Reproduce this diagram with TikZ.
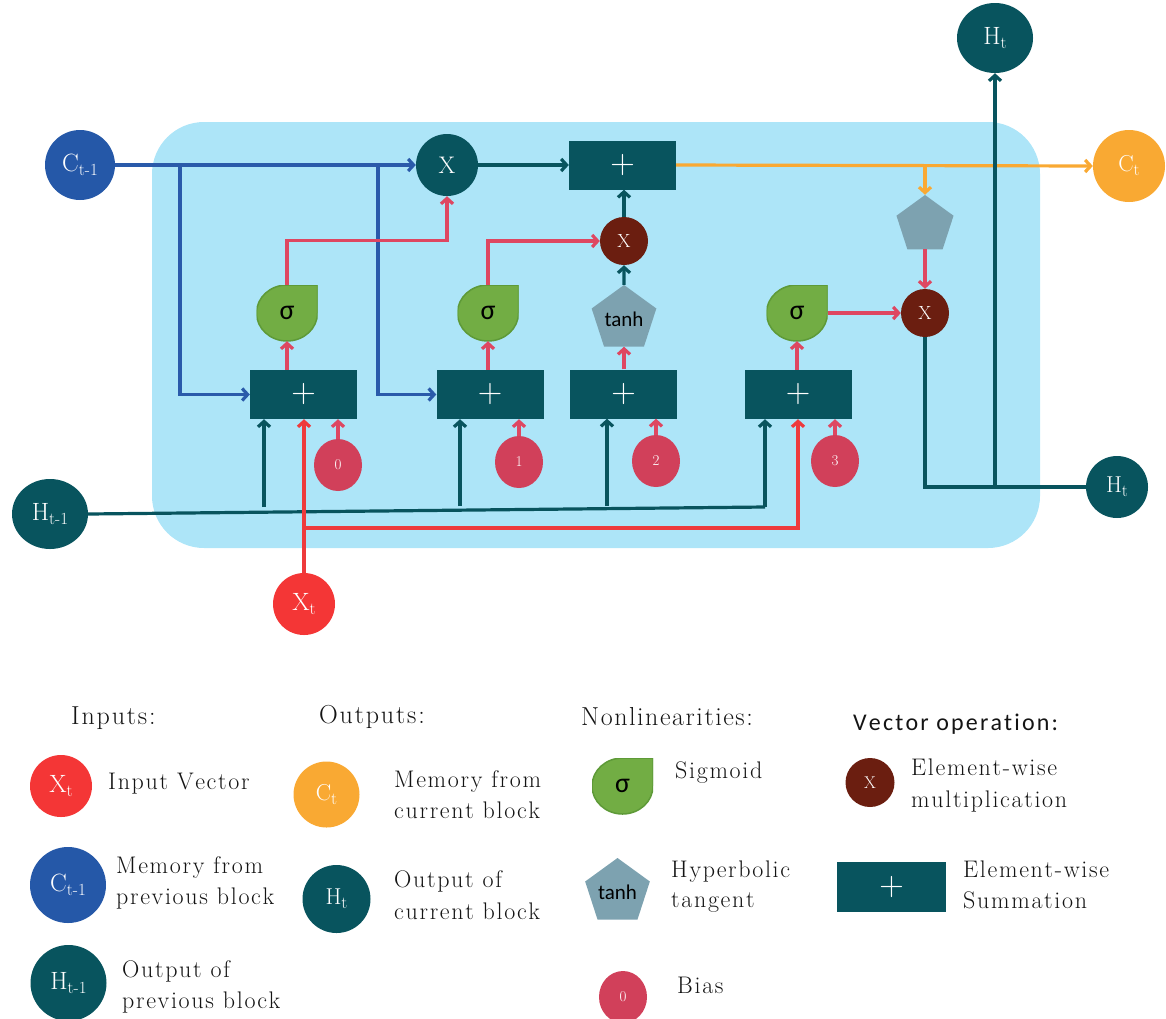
\documentclass[tikz,border=0pt]{standalone}
\usepackage{fontspec}
\newfontfamily\sansf{Carlito}
\usetikzlibrary{arrows.meta,shapes.geometric,calc}
\ExplSyntaxOn
\seq_new:N \l_lstm_words_seq
\NewDocumentCommand\spaced{O{0.07em}m}
 {
  \seq_set_split:Nnn \l_lstm_words_seq {~} {#2}
  \seq_map_indexed_inline:Nn \l_lstm_words_seq
   {
    \int_compare:nNnT {##1} > {1} {\c_space_tl}
    \tl_map_inline:nn {##2} {####1\kern #1}
   }
 }
\ExplSyntaxOff
\definecolor{bgc}{HTML}{ADE5F8}
\definecolor{tealc}{HTML}{08545E}
\definecolor{bluec}{HTML}{2558A8}
\definecolor{bluel}{HTML}{2A5AAA}
\definecolor{greenc}{HTML}{72AD44}
\definecolor{greend}{HTML}{5E9A38}
\definecolor{pentc}{HTML}{7DA2B0}
\definecolor{maroonc}{HTML}{6B1E10}
\definecolor{biasc}{HTML}{D1405A}
\definecolor{xtc}{HTML}{F43636}
\definecolor{xtl}{HTML}{EE3A3C}
\definecolor{orc}{HTML}{F9A933}
\definecolor{pinkl}{HTML}{DE4761}
\definecolor{txtc}{HTML}{141414}
\newcommand\sbs[1]{\raisebox{-4pt}{\fontsize{17}{17}\selectfont #1}}
\newcommand\fsz[1]{\fontsize{#1}{#1}\selectfont}
\begin{document}
\begin{tikzpicture}[x=1pt,y=-1pt,
  lw/.style={line width=3.2pt},
  arr/.style={-{Straight Barb[length=5.5pt,width=12pt]}},
  bl/.style={lw,draw=bluel},
  tl/.style={lw,draw=tealc},
  rl/.style={lw,draw=pinkl},
  xr/.style={lw,draw=xtl},
  orl/.style={lw,draw=orc},
  cellbg/.style={fill=bgc,rounded corners=52pt,minimum width=888pt,minimum height=426pt},
  circ/.style={circle,inner sep=0pt,text=white,font=\fsz{25}},
  ell/.style={ellipse,inner sep=0pt,text=white,font=\fsz{25}},
  plusb/.style={rectangle,fill=tealc,minimum width=107pt,minimum height=49pt,inner sep=0pt,text=white,font=\fsz{34}},
  mulT/.style={circle,fill=tealc,minimum size=62pt,inner sep=0pt,text=white,font=\fsz{24}},
  mulM/.style={circle,fill=maroonc,minimum size=48pt,inner sep=0pt,text=white,font=\fsz{19}},
  pent/.style={regular polygon,regular polygon sides=5,fill=pentc,minimum size=60pt,inner sep=0pt,font=\sansf\fsz{21}},
  biasE/.style={ellipse,fill=biasc,minimum width=48pt,minimum height=52pt,inner sep=0pt,text=white,font=\fsz{15}},
  sigm/.style={rectangle,minimum width=61pt,minimum height=56pt,inner sep=0pt,font=\sansf\fsz{28},
    path picture={\fill[greenc,draw=greend,line width=1.5pt] (path picture bounding box.north east) -- (path picture bounding box.east)
      arc[start angle=0,end angle=-180,x radius=30.5pt,y radius=28pt]
      arc[start angle=180,end angle=90,x radius=30.5pt,y radius=28pt] -- cycle;}},
  lhead/.style={anchor=base west,inner sep=0pt,text=txtc,font=\fsz{26}},
  lhs/.style={anchor=base west,inner sep=0pt,text=txtc,font=\sansf\fsz{24}},
  ltext/.style={anchor=base west,inner sep=0pt,text=txtc,font=\fsz{24}}
]
\useasboundingbox (0,0) rectangle (1166,1018);
\node[cellbg] (cell) at (596,335) {};

% ---- main nodes ----
\node[circ,fill=bluec,minimum size=70pt] (ct1) at (80,165) {C\sbs{t-1}};
\node[mulT] (xg) at (447,165) {X};
\node[plusb] (sp) at (622.5,165) {+};
\node[circ,fill=orc,minimum size=72pt,font=\fsz{23}] (ct) at (1129,166) {C\sbs{t}};
\node[ell,fill=tealc,minimum width=76pt,minimum height=70pt] (htop) at (995,38) {H\sbs{t}};
\node[circ,fill=tealc,minimum size=62pt,font=\fsz{23}] (hr) at (1117,487) {H\sbs{t}};
\node[ell,fill=tealc,minimum width=76pt,minimum height=70pt] (ht1) at (50,514) {H\sbs{t-1}};
\node[circ,fill=xtc,minimum size=62pt] (xt) at (304,604) {X\sbs{t}};
\node[mulM] (xm1) at (624,241) {X};
\node[mulM] (xm2) at (925,313) {X};
\node[pent] (th) at (624,319) {tanh};
\node[pent] (pe2) at (925,225) {};
\node[sigm] (sg1) at (287,313) {σ};
\node[sigm] (sg2) at (488,313) {σ};
\node[sigm] (sg3) at (797,313) {σ};
\node[plusb] (b1) at (303.5,394.5) {+};
\node[plusb] (b2) at (490,394.5) {+};
\node[plusb] (b3) at (623.5,394) {+};
\node[plusb] (b4) at (798,394.5) {+};
\node[biasE] (bi0) at (338,465) {0};
\node[biasE] (bi1) at (519,462) {1};
\node[biasE] (bi2) at (656,461) {2};
\node[biasE] (bi3) at (835,461) {3};

% ---- coordinates ----
\coordinate (bj1) at (180,165);
\coordinate (bj2) at (378,165);
\coordinate (oj) at (925,165);
\coordinate (hj) at (995,487);
\coordinate (hend) at (765,507);
\coordinate (hu1) at (264,507);
\coordinate (hu2) at (460,506);
\coordinate (hu3) at (607,506);
\coordinate (xj) at (304,528);

% ---- connectors ----
\draw[bl,arr] (ct1) -- (xg);
\draw[bl,arr] (bj1) |- (b1.west);
\draw[bl,arr] (bj2) |- (b2.west);
\draw[tl,arr] (xg) -- (sp);
\draw[orl,arr] (sp.east) -- (ct.west);
\draw[orl,arr] (oj) -- (pe2.north);
\draw[rl,arr] (pe2.south) -- (xm2.north);
\draw[rl,arr] (sg3.east) -- (xm2.west);
\draw[tl] (xm2.south) |- (hr.west);
\draw[tl,arr] (hj) -- (htop.south);
\draw[tl,arr] (th.north) -- (xm1.south);
\draw[tl,arr] (xm1.north) -- (xm1.north |- sp.south);
\draw[rl,arr] (sg1.north) -- ++(0,-44) -| (xg.south);
\draw[rl,arr] (sg2.north) |- (xm1.west);
\draw[rl,arr] (b1.north -| sg1.south) -- (sg1.south);
\draw[rl,arr] (b2.north -| sg2.south) -- (sg2.south);
\draw[rl,arr] (b3.north -| th.south) -- (th.south);
\draw[rl,arr] (b4.north -| sg3.south) -- (sg3.south);
\draw[rl,arr] (bi0.north) -- (bi0.north |- b1.south);
\draw[rl,arr] (bi1.north) -- (bi1.north |- b2.south);
\draw[rl,arr] (bi2.north) -- (bi2.north |- b3.south);
\draw[rl,arr] (bi3.north) -- (bi3.north |- b4.south);
\draw[tl] (ht1.east) -- (hend);
\draw[tl,arr] (hend) -- (hend |- b4.south);
\draw[tl,arr] (hu1) -- (hu1 |- b1.south);
\draw[tl,arr] (hu2) -- (hu2 |- b2.south);
\draw[tl,arr] (hu3) -- (hu3 |- b3.south);
\draw[xr,arr] (xt.north) -- (xt.north |- b1.south);
\draw[xr,arr] (xj) -| (b4.south);

% ---- legend ----
\node[lhead] (hin) at (71,724) {\spaced{Inputs:}};
\node[lhead] (hout) at (319,723) {\spaced{Outputs:}};
\node[lhead] (hnon) at (581,725) {\spaced[0.06em]{Nonlinearities:}};
\node[lhs] (hvec) at (853,730) {\spaced[0.09em]{Vector operation:}};

\node[circ,fill=xtc,minimum size=62pt] (lxt) at (61,786) {X\sbs{t}};
\node[ltext] (txt) at (108,789) {\spaced{Input Vector}};
\node[circ,fill=bluec,minimum size=76pt] (lct1) at (68,885) {C\sbs{t-1}};
\node[ltext] (tct1a) at (116,873) {\spaced{Memory from}};
\node[ltext] (tct1b) at (116,904) {\spaced{previous block}};
\node[circ,fill=tealc,minimum size=76pt] (lht1) at (68.5,983) {H\sbs{t-1}};
\node[ltext] (tht1a) at (122,977) {\spaced{Output of}};
\node[ltext] (tht1b) at (122,1008) {\spaced{previous block}};

\node[circ,fill=orc,minimum size=66pt,font=\fsz{23}] (lct) at (326.5,794.5) {C\sbs{t}};
\node[ltext] (tcta) at (394,787) {\spaced{Memory from}};
\node[ltext] (tctb) at (394,818) {\spaced{current block}};
\node[circ,fill=tealc,minimum size=68pt,font=\fsz{23}] (lht) at (336.5,899) {H\sbs{t}};
\node[ltext] (thta) at (394,887) {\spaced{Output of}};
\node[ltext] (thtb) at (394,919) {\spaced{current block}};

\node[sigm] (lsg) at (622.5,786) {σ};
\node[ltext] (tsg) at (675,778) {\spaced{Sigmoid}};
\node[pent] (lpe) at (617.5,892) {tanh};
\node[ltext] (tpea) at (671,877) {\spaced{Hyperbolic}};
\node[ltext] (tpeb) at (671,907) {\spaced{tangent}};
\node[biasE] (lbi) at (623,997) {0};
\node[ltext] (tbi) at (677,993) {\spaced{Bias}};

\node[mulM,minimum size=49pt,font=\fsz{17}] (lxm) at (870,782.5) {X};
\node[ltext] (txma) at (911,775) {\spaced{Element-wise}};
\node[ltext] (txmb) at (911,807) {\spaced{multiplication}};
\node[plusb,minimum width=109pt,minimum height=50pt] (lsp) at (891.5,887) {+};
\node[ltext] (tspa) at (963,877) {\spaced{Element-wise}};
\node[ltext] (tspb) at (963,908) {\spaced{Summation}};
\end{tikzpicture}
\end{document}
